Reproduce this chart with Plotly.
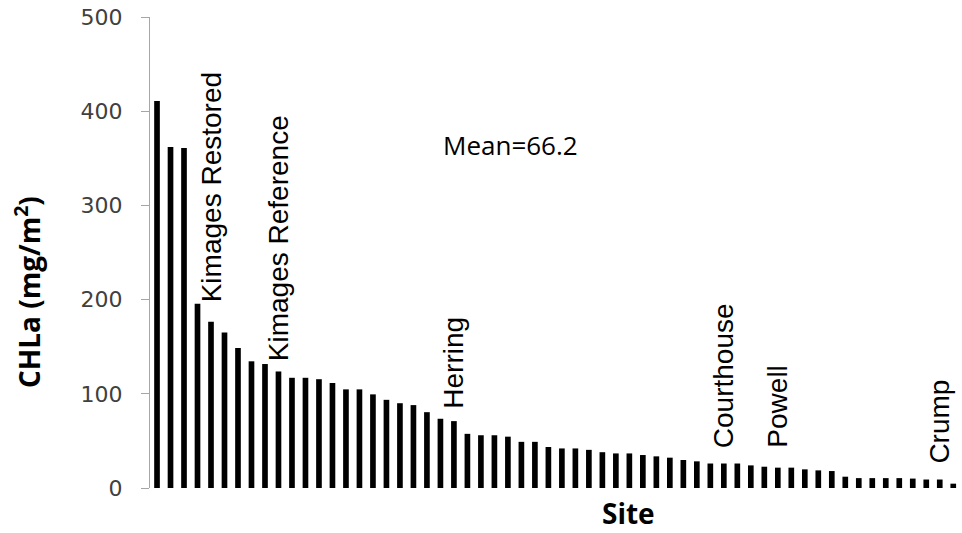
import plotly.graph_objects as go

# ---- data ----
site_index = list(range(1, 61))
chla_values = [
    410.7, 362, 361, 195.5, 176.5, 165, 148.5, 134.5, 131.6, 123.7,
    117, 117, 115.5, 111.5, 104.7, 104.7, 99.4, 93.6, 90, 88,
    80.5, 73.5, 71, 57.5, 56, 56, 54.5, 49, 49, 43.5,
    42, 42, 40.5, 38, 36.7, 36.7, 35, 33.6, 32.2, 29.7,
    28.3, 26, 26, 26, 24, 22.6, 21.6, 21.6, 19.8, 18.7,
    18, 12, 10.5, 10.5, 10.5, 10.5, 10, 9, 9, 4.6,
]
label_names = ["Kimages Restored", "Kimages Reference", "Herring", "Courthouse", "Powell", "Crump"]
label_sites = [5, 10, 23, 43, 47, 59]
label_y = [195, 133, 82, 40.5, 40.5, 23.5]
y_ticks = [0, 100, 200, 300, 400, 500]
mean_text = "Mean=66.2"

fig = go.Figure()
fig.add_trace(go.Bar(
    x=site_index, y=chla_values,
    marker=dict(color="black", line=dict(width=0)),
    width=0.42,
    showlegend=False,
))

annotations = []
for name, s, yv in zip(label_names, label_sites, label_y):
    annotations.append(dict(
        x=s, y=yv, xref="x", yref="y", text=name, showarrow=False,
        textangle=-90, xanchor="center", yanchor="bottom",
        font=dict(family="Liberation Sans, Arial", size=28, color="black"),
    ))
annotations.append(dict(
    x=(441 - 150) / 810, y=(488 - 145) / 471, xref="paper", yref="paper",
    text=mean_text, showarrow=False, xanchor="left", yanchor="middle",
    font=dict(family="Open Sans", size=26, color="black"),
))
annotations.append(dict(
    x=(27 - 150) / 810, y=(488 - 292) / 471, xref="paper", yref="paper",
    text="<b>CHLa (mg/m<sup>2</sup>)</b>", showarrow=False, textangle=-90,
    xanchor="center", yanchor="middle",
    font=dict(family="Open Sans", size=28, color="black"),
))
annotations.append(dict(
    x=(628 - 150) / 810, y=(488 - 513) / 471, xref="paper", yref="paper",
    text="<b>Site</b>", showarrow=False, xanchor="center", yanchor="middle",
    font=dict(family="Open Sans", size=28, color="black"),
))

fig.update_layout(
    width=962, height=533,
    margin=dict(l=150, r=2, t=17, b=45),
    paper_bgcolor="white", plot_bgcolor="white",
    annotations=annotations,
    xaxis=dict(range=[0.48, 60.5], showticklabels=False, showline=False,
               showgrid=False, zeroline=False, ticks=""),
    yaxis=dict(range=[0, 500], tickvals=y_ticks, showgrid=False, zeroline=False,
               showline=True, linecolor="#a6a6a6", linewidth=1,
               ticks="outside", ticklen=8, tickcolor="#a6a6a6",
               ticklabelstandoff=14, automargin=False,
               tickfont=dict(family="DejaVu Sans", size=22, color="#404040")),
    bargap=0.6,
)

fig.write_html("out.html", config={"displayModeBar": False},
               post_script="document.body.style.margin='0';")
